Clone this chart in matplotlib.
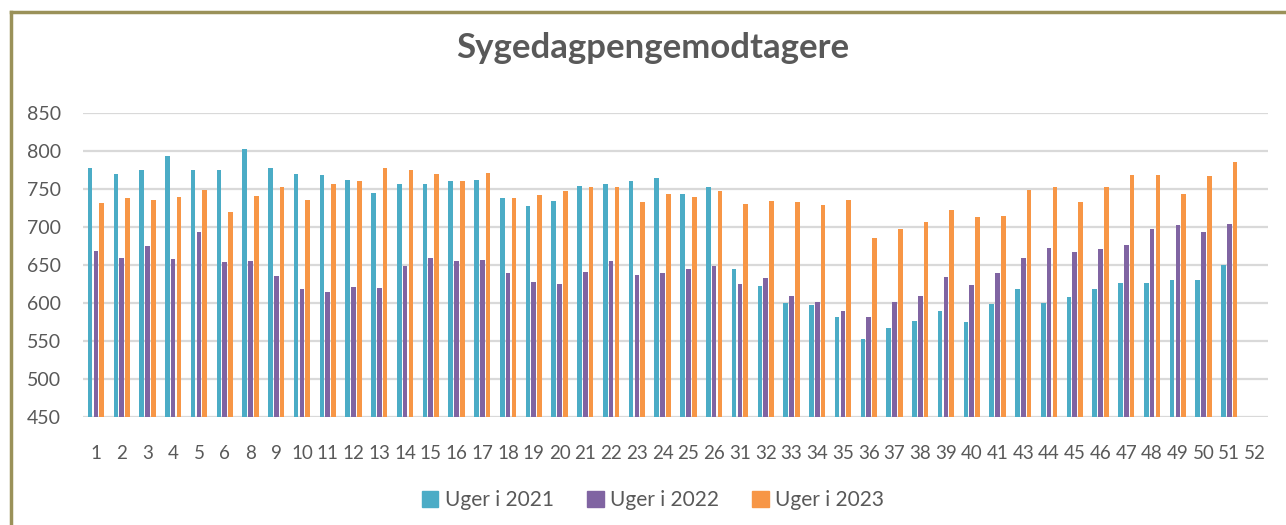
import matplotlib.pyplot as plt
import numpy as np
from matplotlib.lines import Line2D

weeks = ['1', '2', '3', '4', '5', '6', '8', '9', '10', '11', '12', '13', '14', '15',
         '16', '17', '18', '19', '20', '21', '22', '23', '24', '25', '26', '31', '32',
         '33', '34', '35', '36', '37', '38', '39', '40', '41', '43', '44', '45', '46',
         '47', '48', '49', '50', '51', '52']

uger_2021 = [777, 770, 775, 794, 775, 775, 802, 778, 770, 769, 762, 745, 756, 757,
             760, 762, 738, 727, 734, 754, 756, 760, 765, 744, 752, 645, 622, 600,
             597, 581, 552, 567, 576, 589, 575, 599, 618, 600, 608, 618, 626, 626,
             630, 630, 650, np.nan]
uger_2022 = [668, 659, 675, 658, 694, 654, 655, 636, 618, 614, 621, 620, 649, 659,
             655, 657, 640, 628, 625, 641, 655, 637, 640, 645, 649, 625, 633, 609,
             601, 589, 581, 601, 609, 634, 624, 640, 659, 672, 667, 671, 676, 698,
             703, 694, 704, np.nan]
uger_2023 = [732, 738, 736, 740, 749, 720, 741, 752, 736, 757, 761, 777, 775, 770,
             760, 771, 738, 742, 748, 752, 753, 733, 744, 740, 748, 730, 734, 733,
             729, 736, 686, 698, 707, 723, 713, 715, 749, 752, 733, 752, 769, 769,
             744, 767, 785, np.nan]

series = ['Uger i 2021', 'Uger i 2022', 'Uger i 2023']
colors = ['#4BACC6', '#8064A2', '#F79646']
text_color = '#595959'

plt.rcParams['font.family'] = ['Lato', 'DejaVu Sans']

fig = plt.figure(figsize=(12.86, 5.25), dpi=100)
ax = fig.add_axes([83 / 1286, 1 - 417 / 525, (1268 - 83) / 1286, (417 - 113) / 525])

x = np.arange(len(weeks))
w = 0.18
step = 0.226
for i, vals in enumerate([uger_2021, uger_2022, uger_2023]):
    ax.bar(x + (i - 1) * step, vals, width=w, color=colors[i], label=series[i],
           zorder=3)

ax.set_ylim(450, 850)
ax.set_xlim(-0.5, len(weeks) - 0.5)
ax.set_yticks(np.arange(450, 851, 50))
ax.set_xticks(x)
ax.set_xticklabels(weeks)
ax.tick_params(axis='y', length=0, labelsize=14, labelcolor=text_color, pad=16)
ax.tick_params(axis='x', length=0, labelsize=13.5, labelcolor=text_color, pad=20)
ax.yaxis.grid(True, color='#D9D9D9', linewidth=1.6, zorder=0)
for s in ax.spines.values():
    s.set_visible(False)

fig.text(653 / 1286, 1 - 48 / 525, 'Sygedagpengemodtagere', ha='center', va='center',
         fontsize=25, fontweight='bold', color=text_color)

handles = [plt.Rectangle((0, 0), 1, 1, color=c) for c in colors]
fig.legend(handles, series, loc='center', bbox_to_anchor=(653 / 1286, 1 - 500 / 525),
           ncol=3, frameon=False, fontsize=15, labelcolor=text_color,
           handlelength=0.8, handleheight=0.8, handletextpad=0.3, columnspacing=1.6)

# olive frame on top and left edge
border = '#9A9159'
fig.add_artist(Line2D([10.5 / 1286, 1], [1 - 11.5 / 525, 1 - 11.5 / 525],
                      transform=fig.transFigure, color=border, linewidth=2.5))
fig.add_artist(Line2D([10.5 / 1286, 10.5 / 1286], [0, 1 - 11.5 / 525],
                      transform=fig.transFigure, color=border, linewidth=2.5))

fig.savefig('out.png', dpi=100)
